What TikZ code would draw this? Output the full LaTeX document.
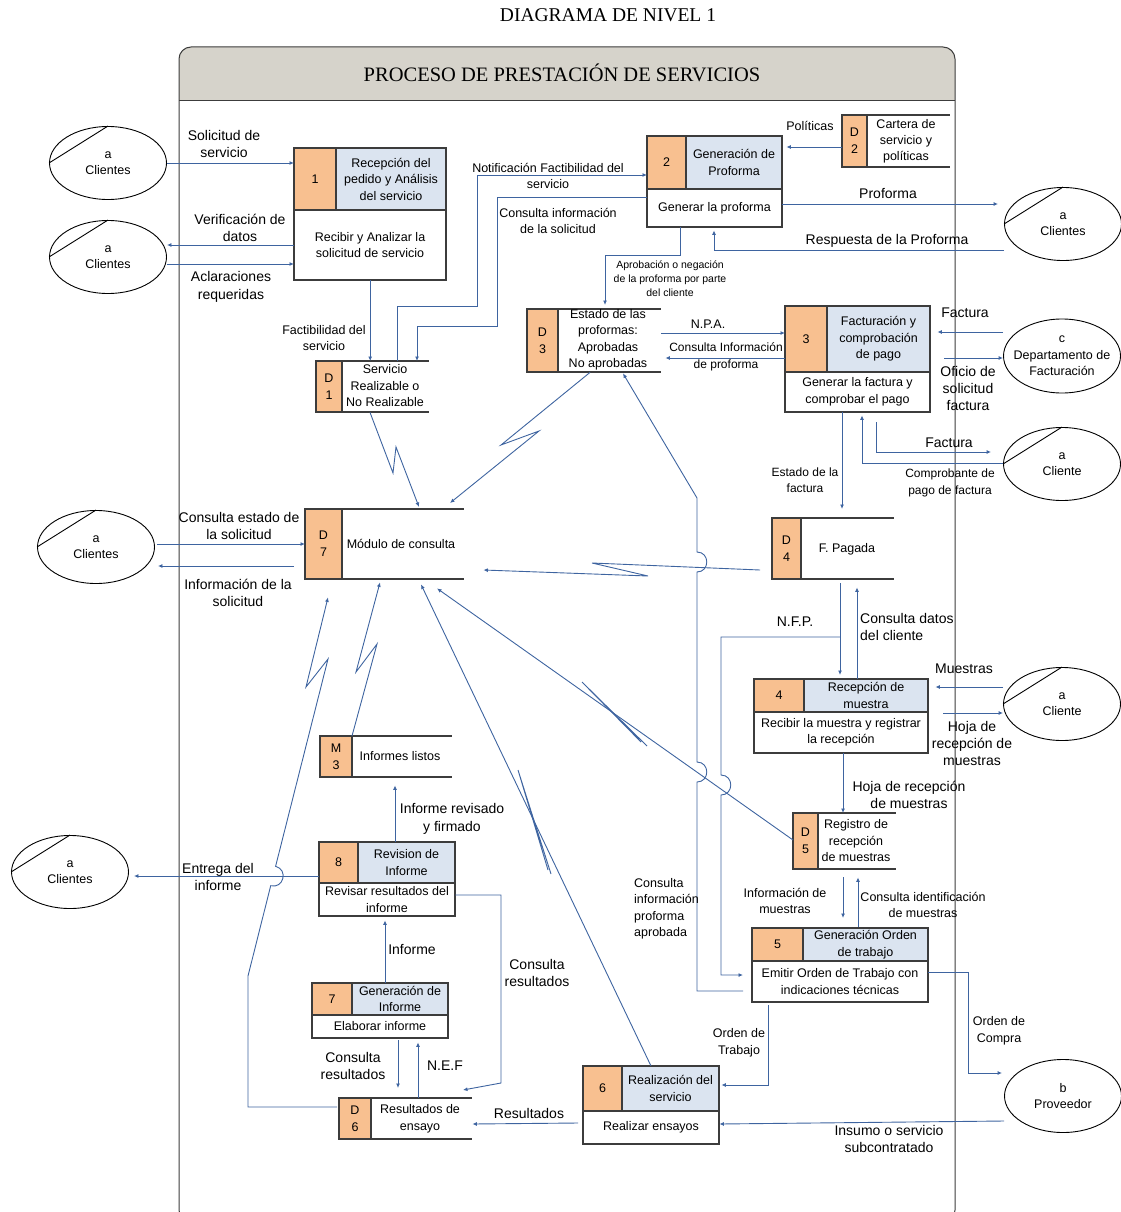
\documentclass[tikz,border=0pt]{standalone}
\usepackage{fontspec}
\setmainfont{Liberation Sans}
\newfontfamily\seriffont{Liberation Serif}
\usetikzlibrary{shapes.geometric,arrows.meta,calc}
\definecolor{lineblue}{RGB}{62,100,160}
\definecolor{orangefill}{RGB}{248,192,144}
\definecolor{bluefill}{RGB}{219,228,240}
\definecolor{hdrgray}{RGB}{214,211,203}
\definecolor{boxgray}{RGB}{60,60,60}
\tikzset{
 flow/.style={draw=lineblue, line width=0.9pt, -{Latex[length=4.5pt,width=4pt]}},
 plain/.style={draw=lineblue, line width=0.9pt},
 boxline/.style={draw=boxgray, line width=1.2pt},
 procnode/.style={rectangle, draw=none, inner sep=0pt},
 boxtext/.style={font=\fontsize{12.5}{16.5}\selectfont, align=center, inner sep=0pt},
 numtext/.style={font=\fontsize{12.5}{17}\selectfont, align=center, inner sep=0pt},
 lbl/.style={font=\fontsize{14}{17.5}\selectfont, align=center, inner sep=0pt},
 slbl/.style={font=\fontsize{12.5}{16.5}\selectfont, align=center, inner sep=0pt},
 mlbl/.style={font=\fontsize{12}{16.5}\selectfont, align=center, inner sep=0pt},
 tlbl/.style={font=\fontsize{10.5}{14}\selectfont, align=center, inner sep=0pt},
 entity/.style={ellipse, draw=black, line width=0.9pt, minimum width=117pt, minimum height=73pt, inner sep=0pt},
 entline/.style={draw=black, line width=0.9pt},
 enttext/.style={font=\fontsize{12.5}{16.5}\selectfont, align=center, inner sep=0pt},
}
% name, x, y, w, h, header height, column width, number, header text
\newcommand\procbox[9]{%
 \node[procnode, minimum width=#4, minimum height=#5, anchor=north west] (#1) at (#2,#3) {};
 \fill[orangefill] (#2,#3) rectangle ++(#7,#6);
 \fill[bluefill] (#2+#7,#3) rectangle (#2+#4,#3+#6);
 \draw[boxline] (#2,#3) rectangle ++(#4,#5);
 \draw[boxline] (#2,#3+#6) -- ++(#4,0);
 \draw[boxline] (#2+#7,#3) -- ++(0,#6);
 \node[numtext] (#1-n) at (#2+#7/2,#3+#6/2) {#8};
 \node[boxtext] (#1-h) at (#2+#4/2+#7/2,#3+#6/2) {#9};
 \coordinate (#1-b) at (#2+#4/2,#3+#5/2+#6/2);
}
% name, x, y, w, h, column width, id
\newcommand\storebox[7]{%
 \node[procnode, minimum width=#4, minimum height=#5, anchor=north west] (#1) at (#2,#3) {};
 \fill[orangefill] (#2,#3) rectangle ++(#6,#5);
 \draw[boxline] (#2,#3) rectangle ++(#6,#5);
 \draw[boxline] (#2,#3) -- ++(#4,0) (#2,#3+#5) -- ++(#4,0);
 \node[numtext] (#1-n) at (#2+#6/2,#3+#5/2) {#7};
}
\begin{document}
\begin{tikzpicture}[x=1pt,y=-1pt]
\useasboundingbox (0,0) rectangle (1121,1212);
\clip (0,0) rectangle (1121,1212);
% frame
\fill[hdrgray, rounded corners=12] (179,47) rectangle (955,101);
\fill[hdrgray] (179,80) rectangle (955,101);
\draw[boxgray, line width=1pt, rounded corners=12] (179,1222) rectangle (955,47);
\draw[boxgray, line width=1pt] (179,101) -- (955,101);
\node[font=\seriffont\fontsize{19.5}{19.5}\selectfont] (title) at (608,15) {DIAGRAMA DE NIVEL 1};
\node[font=\seriffont\fontsize{20.5}{20}\selectfont] (frametitle) at (562,73) {PROCESO DE PRESTACIÓN DE SERVICIOS};

% processes
\procbox{P1}{294}{148}{152}{132}{62}{42}{1}{Recepción del\\pedido y Análisis\\del servicio}
\node[boxtext] (P1t) at (P1-b) {Recibir y Analizar la\\solicitud de servicio};
\procbox{P2}{647}{136}{135}{91}{53}{39}{2}{Generación de\\Proforma}
\node[boxtext] (P2t) at (P2-b) {Generar la proforma};
\procbox{P3}{785}{306}{145}{106}{66}{42}{3}{Facturación y\\comprobación\\de pago}
\node[boxtext] (P3t) at (P3-b) {Generar la factura y\\comprobar el pago};
\procbox{P4}{754}{679}{174}{74}{33}{50}{4}{Recepción de\\muestra}
\node[boxtext] (P4t) at (P4-b) {Recibir la muestra y registrar\\la recepción};
\procbox{P5}{752}{928}{176}{74}{33}{51}{5}{Generación Orden\\de trabajo}
\node[boxtext] (P5t) at (P5-b) {Emitir Orden de Trabajo con\\indicaciones técnicas};
\procbox{P6}{583}{1066}{136}{78}{45}{39}{6}{Realización del\\servicio}
\node[boxtext] (P6t) at (P6-b) {Realizar ensayos};
\procbox{P7}{312}{983}{136}{55}{32}{40}{7}{Generación de\\Informe}
\node[boxtext] (P7t) at (P7-b) {Elaborar informe};
\procbox{P8}{319}{842}{136}{74}{41}{39}{8}{Revision de\\Informe}
\node[boxtext] (P8t) at (P8-b) {Revisar resultados del\\informe};

% data stores
\storebox{D1}{316}{361}{113}{51}{26}{D\\1}
\node[boxtext] (D1t) at (385,386) {Servicio\\Realizable o\\No Realizable};
\storebox{D2}{842}{115}{108}{52}{25}{D\\2}
\node[boxtext, font=\fontsize{12.5}{16}\selectfont] (D2t) at (906,141) {Cartera de\\servicio y\\políticas};
\storebox{D3}{527}{309}{134}{63}{31}{D\\3}
\node[boxtext] (D3t) at (608,340) {Estado de las\\proformas:\\Aprobadas\\No aprobadas};
\storebox{D4}{772}{518}{122}{61}{29}{D\\4}
\node[boxtext] (D4t) at (847,549) {F. Pagada};
\storebox{D5}{793}{813}{103}{56}{25}{D\\5}
\node[boxtext] (D5t) at (856,841) {Registro de\\recepción\\de muestras};
\storebox{D6}{339}{1098}{133}{41}{32}{D\\6}
\node[boxtext] (D6t) at (420,1119) {Resultados de\\ensayo};
\storebox{D7}{305}{509}{159}{70}{37}{D\\7}
\node[boxtext] (D7t) at (401,544) {Módulo de consulta};
\storebox{M3}{320}{736}{132}{41}{32}{M\\3}
\node[boxtext] (M3t) at (400,756) {Informes listos};

% external entities
\node[entity] (E1) at (108,163) {};
\draw[entline] (E1.west) -- (E1.north);
\node[enttext] (E1t) at (E1) {a\\Clientes};
\node[entity] (E2) at (108,257) {};
\draw[entline] (E2.west) -- (E2.north);
\node[enttext] (E2t) at (E2) {a\\Clientes};
\node[entity] (E3) at (1063,224) {};
\draw[entline] (E3.west) -- (E3.north);
\node[enttext] (E3t) at (E3) {a\\Clientes};
\node[entity, minimum height=74pt] (E4) at (1062,356) {};
\node[enttext] (E4t) at (E4) {c\\Departamento de\\Facturación};
\node[entity] (E5) at (1062,464) {};
\draw[entline] (E5.west) -- (E5.north);
\node[enttext] (E5t) at (E5) {a\\Cliente};
\node[entity] (E6) at (1062,704) {};
\draw[entline] (E6.west) -- (E6.north);
\node[enttext] (E6t) at (E6) {a\\Cliente};
\node[entity] (E7) at (1063,1096) {};
\node[enttext] (E7t) at (E7) {b\\Proveedor};
\node[entity] (E8) at (96,547) {};
\draw[entline] (E8.west) -- (E8.north);
\node[enttext] (E8t) at (E8) {a\\Clientes};
\node[entity] (E9) at (70,872) {};
\draw[entline] (E9.west) -- (E9.north);
\node[enttext] (E9t) at (E9) {a\\Clientes};

% flows
\draw[flow] (E1.east) -- (E1.east -| P1.west);
\draw[flow] (P1.west |- 0,245) -- (E2.east |- 0,245);
\draw[flow] (E2.east |- 0,264) -- (P1.west |- 0,264);
\draw[flow] (P1.south) -- (P1.south |- D1.north);
\draw[flow] (D1.north -| 397,0) -- (397,306) -- (477,306) -- (477,175) -- (P2.west |- 0,175);
\draw[flow] (P2.west |- 0,197) -- (497,197) -- (497,326) -- (417,326) -- (D1.north -| 417,0);
\draw[flow] (D2.west |- 0,147) -- ($(P2.east |- 0,147)+(4,0)$);
\draw[flow] (P2.east |- 0,204) -- ($(E3.west |- 0,204)+(-6,0)$);
\draw[flow] (E3.west |- 0,250) -- (714,250) -- ($(P2.south -| 714,0)+(0,3)$);
\draw[flow] (P2.south -| 680,0) -- (680,255) -- (605,255) -- ($(D3.north -| 605,0)+(0,-4)$);
\draw[flow] (D3.east |- 0,333) -- (P3.west |- 0,333);
\draw[flow] (P3.west |- 0,358) -- ($(D3.east |- 0,358)+(4,0)$);
\draw[flow] (E4.west |- 0,332) -- ($(P3.east |- 0,332)+(7,0)$);
\draw[flow] ($(P3.east |- 0,358)+(14,0)$) -- (E4.west |- 0,358);
\draw[flow] (P3.south -| 842,0) -- ($(D4.north -| 842,0)+(0,-9)$);
\draw[flow] ($(P3.south -| 876,0)+(0,10)$) -- (876,452) -- ($(E5.west |- 0,452)+(-12,0)$);
\draw[flow] (E5.west |- 0,463) -- (862,463) -- ($(P3.south -| 862,0)+(0,3)$);
\draw[flow] ($(D4.south -| 840,0)+(0,4)$) -- ($(P4.north -| 840,0)+(0,-4)$);
\draw[flow] (840,637) -- (721,637) -- (721,775) .. controls (734,775) and (734,795) .. (721,795) -- (721,975) -- ($(P5.west |- 0,975)+(-9,0)$);
\draw[flow] (P4.north -| 857,0) -- ($(D4.south -| 857,0)+(0,8)$);
\draw[flow] (E6.west |- 0,687) -- ($(P4.east |- 0,687)+(7,0)$);
\draw[flow] ($(P4.east |- 0,713)+(15,0)$) -- (E6.west |- 0,713);
\draw[flow] (P4.south -| 843,0) -- (D5.north -| 843,0);
\draw[flow] ($(D5.south -| 843,0)+(0,8)$) -- ($(P5.north -| 843,0)+(0,-10)$);
\draw[flow] ($(P5.north -| 858,0)+(0,-1)$) -- ($(D5.south -| 858,0)+(0,8)$);
\draw[flow] ($(P5.west |- 0,991)+(-9,0)$) -- (697,991) -- (697,782) .. controls (710,782) and (710,762) .. (697,762) -- (697,572) .. controls (710,572) and (710,552) .. (697,552) -- (697,498) -- ($(D3.south -| 623,0)+(0,1)$);
\draw[flow] ($(P5.south -| 768,0)+(0,3)$) -- (768,1085) -- ($(P6.east |- 0,1085)+(2,0)$);
\draw[flow] (P5.east |- 0,972) -- (968,972) -- (968,1073) -- ($(E7.west |- 0,1073)+(-2,0)$);
\draw[flow] (E7.west |- 0,1121) -- (P6.east |- 0,1124);
\draw[flow] ($(P6.west |- 0,1123)+(-5,0)$) -- (D6.east |- 0,1124);
\draw[flow] (P6.north -| 651,0) -- ($(D7.south -| 421,0)+(0,5)$);
\draw[plain] (548,870) -- (518,770) -- (551,874);
\draw[flow] (D5.west |- 0,840) -- ($(D7.south -| 437,0)+(0,9)$);
\draw[plain] (641,742) -- (582,682) -- (647,746);
\draw[flow] ($(D4.west |- 0,570)+(-12,0)$) -- (592,563) -- (648,576) -- ($(D7.east |- 0,570)+(19,0)$);
\draw[flow] (D1.south -| 370,0) -- (393,473) -- (396,447) -- ($(D7.north -| 419,0)+(0,-2)$);
\draw[flow] (D3.south -| 590,0) -- (501,445) -- (539,431) -- ($(D7.north -| 450,0)+(0,-6)$);
\draw[flow] (M3.north -| 352,0) -- (377,644) -- (356,672) -- ($(D7.south -| 380,0)+(0,3)$);
\draw[flow] ($(D6.west |- 0,1107)+(-2,0)$) -- (248,1107) -- (248,976) -- (270.7,885.7) .. controls (283.6,889) and (288.5,869.6) .. (275.6,866.3) -- (328,659) -- (306,687) -- ($(D7.south -| 328,0)+(0,18)$);
\draw[flow] (P8.north -| 395,0) -- ($(M3.south -| 395,0)+(0,8)$);
\draw[flow] (P8.west |- 0,876) -- ($(E9.east |- 0,876)+(5,0)$);
\draw[flow] (P8.east |- 0,895) -- (501,895) -- (501,1083) -- ($(D6.north -| 463,0)+(0,-8)$);
\draw[flow] (P7.north -| 385,0) -- ($(P8.south -| 385,0)+(0,4)$);
\draw[flow] ($(P7.south -| 398,0)+(0,2)$) -- ($(D6.north -| 398,0)+(0,-10)$);
\draw[flow] (D6.north -| 418,0) -- ($(P7.south -| 418,0)+(0,4)$);
\draw[flow] ($(E8.east |- 0,544)+(2,0)$) -- (D7.west |- 0,544);
\draw[flow] ($(D7.west |- 0,566)+(-11,0)$) -- ($(E8.east |- 0,566)+(3,0)$);

% labels
\node[lbl] (l1) at (224,144) {Solicitud de\\servicio};
\node[lbl] (l2) at (240,228) {Verificación de\\datos};
\node[lbl] (l3) at (231,287) {Aclaraciones\\requeridas};
\node[slbl] (l4) at (324,338) {Factibilidad del\\servicio};
\node[slbl] (l5) at (548,176) {Notificación Factibilidad del\\servicio};
\node[slbl] (l6) at (558,221) {Consulta información\\de la solicitud};
\node[slbl] (l7) at (810,126) {Políticas};
\node[lbl] (l8) at (888,194) {Proforma};
\node[lbl] (l9) at (887,241) {Respuesta de la Proforma};
\node[tlbl] (l10) at (670,279) {Aprobación o negación\\de la proforma por parte\\del cliente};
\node[slbl] (l11) at (708,324) {N.P.A.};
\node[mlbl] (l12) at (726,357) {Consulta Información\\de proforma};
\node[lbl] (l13) at (965,313) {Factura};
\node[lbl, font=\fontsize{14}{17}\selectfont] (l14) at (968,388) {Oficio de\\solicitud\\factura};
\node[mlbl] (l15) at (805,480) {Estado de la\\factura};
\node[lbl] (l16) at (949,443) {Factura};
\node[mlbl] (l17) at (950,483) {Comprobante de\\pago de factura};
\node[lbl] (l18) at (795,622) {N.F.P.};
\node[lbl, align=left, anchor=west] (l19) at (860,627) {Consulta datos\\del cliente};
\node[lbl] (l20) at (964,669) {Muestras};
\node[lbl, font=\fontsize{14}{17}\selectfont] (l21) at (972,743) {Hoja de\\recepción de\\muestras};
\node[lbl, font=\fontsize{14}{16.5}\selectfont] (l22) at (909,795) {Hoja de recepción\\de muestras};
\node[slbl] (l23) at (785,901) {Información de\\muestras};
\node[slbl] (l24) at (923,905) {Consulta identificación\\de muestras};
\node[slbl, align=left, anchor=west] (l25) at (634,909) {Consulta\\información\\proforma\\aprobada};
\node[slbl] (l26) at (739,1043) {Orden de\\Trabajo};
\node[slbl] (l27) at (999,1031) {Orden de\\Compra};
\node[lbl] (l28) at (889,1139) {Insumo o servicio\\subcontratado};
\node[lbl] (l29) at (529,1113) {Resultados};
\node[lbl] (l30) at (537,973) {Consulta\\resultados};
\node[lbl] (l31) at (353,1066) {Consulta\\resultados};
\node[lbl] (l32) at (445,1066) {N.E.F};
\node[lbl] (l33) at (412,949) {Informe};
\node[lbl] (l34) at (452,819) {Informe revisado\\y firmado};
\node[lbl] (l35) at (218,877) {Entrega del\\informe};
\node[lbl] (l36) at (239,526) {Consulta estado de\\la solicitud};
\node[lbl] (l37) at (238,593) {Información de la\\solicitud};
\end{tikzpicture}
\end{document}
